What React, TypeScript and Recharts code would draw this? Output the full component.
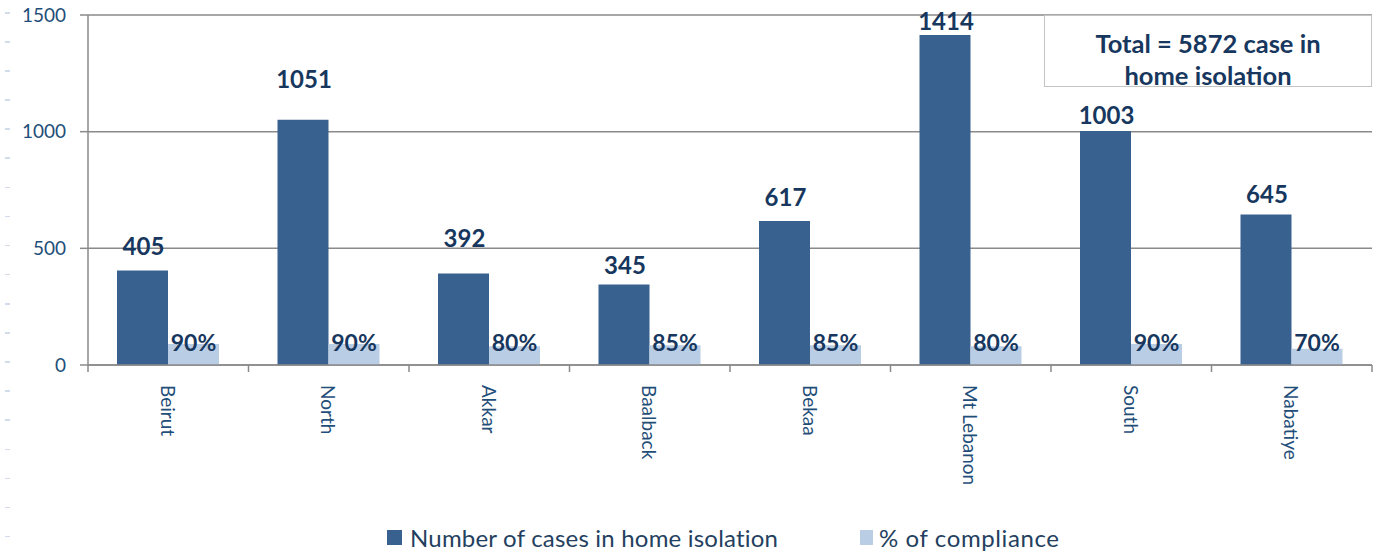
import { BarChart, Bar, XAxis, YAxis, CartesianGrid, LabelList } from "recharts"

const regions = ["Beirut", "North", "Akkar", "Baalback", "Bekaa", "Mt Lebanon", "South", "Nabatiye"]
const homeIsolationCases = [405, 1051, 392, 345, 617, 1414, 1003, 645]
const compliancePct = [90, 90, 80, 85, 85, 80, 90, 70]
const yTicks = [0, 500, 1000, 1500]
const totalCases = 5872

const W = 1384
const H = 556
const MARGIN = { top: 15, right: 12, left: 0, bottom: 41 }
const Y_AXIS_W = 88
const X_AXIS_H = 150
const PLOT_BOTTOM = H - MARGIN.bottom - X_AXIS_H
const BAND = (W - Y_AXIS_W - MARGIN.right) / regions.length

// the case labels sit at uneven heights above the bars in the original
const CASE_LABEL_LIFT = [25, 41.5, 36.5, 20.5, 24.5, 15, 16, 21.5]

const FONT = "Lato, 'Open Sans', sans-serif"
const DARK = "#38618F"
const LIGHT = "#B9CDE5"
const NAVY = "#17375E"
const AXIS = "#8A8A8A"

const data = regions.map((region, i) => ({
  region,
  cases: homeIsolationCases[i],
  compliance: compliancePct[i],
}))

function RegionTick(props: any) {
  const { x, payload, index } = props
  const ty = PLOT_BOTTOM + 20
  return (
    <g>
      <line x1={x - BAND / 2} x2={x - BAND / 2} y1={PLOT_BOTTOM} y2={PLOT_BOTTOM + 7} stroke={AXIS} strokeWidth={1.5} />
      {index === regions.length - 1 && (
        <line x1={x + BAND / 2} x2={x + BAND / 2} y1={PLOT_BOTTOM} y2={PLOT_BOTTOM + 7} stroke={AXIS} strokeWidth={1.5} />
      )}
      <text
        x={x}
        y={ty}
        transform={`rotate(90 ${x} ${ty})`}
        textAnchor="start"
        dominantBaseline="central"
        fill="#1F4E79"
        fontSize={19}
        fontFamily={FONT}
      >
        {payload.value}
      </text>
    </g>
  )
}

const renderCaseLabel = (props: any) => {
  const { x, y, width, value } = props
  const i = props.index ?? homeIsolationCases.indexOf(value)
  return (
    <text
      x={x + width / 2 + 1}
      y={y - CASE_LABEL_LIFT[i]}
      textAnchor="middle"
      dominantBaseline="central"
      fill={NAVY}
      fontSize={24}
      fontWeight={700}
      fontFamily={FONT}
    >
      {value}
    </text>
  )
}

const renderPctLabel = (props: any) => {
  const { x, y, width, height, value } = props
  return (
    <text
      x={x + width / 2}
      y={y + height - 23}
      textAnchor="middle"
      dominantBaseline="central"
      fill={NAVY}
      fontSize={23}
      fontWeight={700}
      fontFamily={FONT}
    >
      {value}%
    </text>
  )
}

export default function App() {
  return (
    <div style={{ position: "absolute", left: 0, top: 0, width: W, height: H, background: "#fff", fontFamily: FONT }}>
      {/* faint dashes down the left edge */}
      <div
        style={{
          position: "absolute",
          left: 5,
          top: 12,
          width: 5,
          height: 528,
          backgroundImage: "repeating-linear-gradient(to bottom, #D3DCEA 0px, #D3DCEA 1.5px, transparent 1.5px, transparent 29.1px)",
        }}
      />
      <BarChart width={W} height={H} data={data} margin={MARGIN} barGap={0} barSize={51}>
        <CartesianGrid vertical={false} stroke={AXIS} strokeWidth={1.5} />
        <XAxis
          dataKey="region"
          height={X_AXIS_H}
          interval={0}
          tickLine={false}
          axisLine={{ stroke: AXIS, strokeWidth: 1.5 }}
          tick={<RegionTick />}
        />
        <YAxis
          width={Y_AXIS_W}
          domain={[0, 1500]}
          ticks={yTicks}
          tickSize={8}
          tickMargin={14}
          tickLine={{ stroke: AXIS, strokeWidth: 1.5 }}
          axisLine={{ stroke: AXIS, strokeWidth: 1.5 }}
          tick={{ fill: "#1F4E79", fontSize: 19, fontFamily: FONT }}
        />
        <Bar dataKey="cases" fill={DARK} isAnimationActive={false}>
          <LabelList dataKey="cases" content={renderCaseLabel} />
        </Bar>
        <Bar dataKey="compliance" fill={LIGHT} isAnimationActive={false}>
          <LabelList dataKey="compliance" content={renderPctLabel} />
        </Bar>
      </BarChart>

      <div
        style={{
          position: "absolute",
          left: 1044,
          top: 15,
          width: 328,
          height: 72,
          boxSizing: "border-box",
          border: "1.5px solid #C4C4C4",
          background: "#fff",
          paddingTop: 11,
          textAlign: "center",
          color: NAVY,
          fontWeight: 700,
          fontSize: 25.5,
          lineHeight: "32px",
        }}
      >
        Total = {totalCases} case in
        <br />
        home isolation
      </div>

      <div style={{ position: "absolute", left: 387, top: 522, height: 30, display: "flex", alignItems: "center", color: "#243F60", fontSize: 24, letterSpacing: 0.2 }}>
        <span style={{ width: 15, height: 15, background: DARK, display: "inline-block", marginRight: 8 }} />
        <span>Number of cases in home isolation</span>
      </div>
      <div style={{ position: "absolute", left: 860, top: 522, height: 30, display: "flex", alignItems: "center", color: "#243F60", fontSize: 24, letterSpacing: 0.6 }}>
        <span style={{ width: 13, height: 15, background: LIGHT, display: "inline-block", marginRight: 6 }} />
        <span>% of compliance</span>
      </div>
    </div>
  )
}
